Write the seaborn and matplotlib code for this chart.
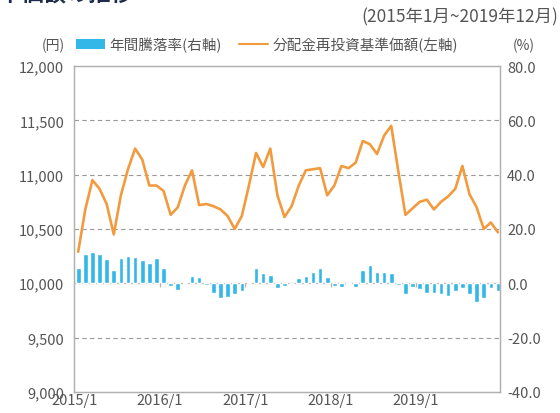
import matplotlib
matplotlib.use("Agg")
import matplotlib.pyplot as plt
import seaborn as sns
import numpy as np
import pandas as pd
from matplotlib.patches import Patch
from matplotlib.lines import Line2D

# monthly data 2015/1 - 2019/12
nav = [10290, 10680, 10950, 10870, 10730, 10450, 10810, 11050, 11240, 11140, 10900, 10900,
       10850, 10630, 10700, 10900, 11040, 10720, 10730, 10710, 10680, 10620, 10500, 10620,
       10900, 11200, 11070, 11240, 10810, 10610, 10710, 10900, 11040, 11050, 11060, 10810,
       10900, 11080, 11060, 11110, 11310, 11280, 11190, 11360, 11450, 11030, 10630, 10690,
       10750, 10770, 10680, 10750, 10800, 10870, 11080, 10820, 10700, 10500, 10560, 10470]
yoy = [5.8, 10.7, 11.7, 10.9, 8.9, 4.9, 9.2, 10.1, 9.7, 8.6, 7.4, 9.2,
       5.8, -1.0, -2.6, 0.6, 2.8, 2.2, -0.8, -3.4, -5.3, -5.2, -4.0, -2.8,
       0.5, 5.5, 3.7, 2.9, -1.6, -1.0, 0.2, 2.0, 2.7, 4.2, 5.5, 2.2,
       -1.0, -1.2, -0.3, -1.2, 5.0, 6.8, 4.2, 4.2, 3.9, -0.5, -3.8, -1.4,
       -2.2, -3.4, -3.4, -3.8, -4.7, -2.8, -1.6, -4.1, -6.8, -5.3, -1.6, -2.8]
year_labels = ["2015/1", "2016/1", "2017/1", "2018/1", "2019/1"]
left_ticks = [9000, 9500, 10000, 10500, 11000, 11500, 12000]
right_ticks = [-40, -20, 0, 20, 40, 60, 80]

line_color = "#f29b3e"
bar_color = "#33b7e8"
text_color = "#555555"
grid_color = "#9a9a9a"

sns.set_style("white")
plt.rcParams['font.family'] = ['Noto Sans CJK JP', 'DejaVu Sans']

df = pd.DataFrame({"m": np.arange(len(nav)), "nav": nav, "yoy": yoy})

fig = plt.figure(figsize=(5.6, 4.14), dpi=100)
ax1 = fig.add_axes([0.132, 0.051, 0.761, 0.787])
ax2 = ax1.twinx()

sns.barplot(data=df, x="m", y="yoy", ax=ax2, color=bar_color, width=0.65,
            native_scale=True, saturation=1)
sns.lineplot(data=df, x="m", y="nav", ax=ax1, color=line_color, linewidth=1.9)

ax1.set_zorder(ax2.get_zorder() + 1)
ax1.patch.set_visible(False)

ax1.set_xlim(-0.6, 59.3)
ax1.set_ylim(9000, 12000)
ax2.set_ylim(-40, 80)
ax2.set_xlim(-0.6, 59.3)

# gridlines on the left scale
for v in left_ticks[1:-1]:
    if v == 10000:
        ax2.axhline(0, color="#b5b5b5", lw=0.9, zorder=0)
    else:
        ax2.axhline((v - 10000) / 25, color=grid_color, lw=0.8,
                    ls=(0, (4, 3)), zorder=0)

year_pos = [12 * k - 0.5 for k in range(len(year_labels))]
ax2.vlines(year_pos[1:], -1.3, 0, color="#b5b5b5", lw=0.9)

ax1.set_xticks(year_pos)
ax1.set_xticklabels(year_labels, fontsize=10.5, color=text_color)
ax1.set_yticks(left_ticks)
ax1.set_yticklabels([f"{v:,}" for v in left_ticks], fontsize=10.5, color=text_color)
ax2.set_yticks(right_ticks)
ax2.set_yticklabels([f"{v:.1f}" for v in right_ticks], fontsize=10.5, color=text_color)
ax1.tick_params(axis="x", length=0, pad=1)
ax1.tick_params(axis="y", length=0, pad=7)
ax2.tick_params(axis="y", length=0, pad=5)
ax1.set_xlabel("")
ax1.set_ylabel("")
ax2.set_xlabel("")
ax2.set_ylabel("")

for ax in (ax1, ax2):
    for s in ax.spines.values():
        s.set_color("#b0b0b0")
        s.set_linewidth(0.9)

# title (cut off at top), subtitle and units
fig.text(-0.04, 0.998, "基準価額の推移", fontsize=16, fontweight="bold",
         color="#1c2b4a", ha="left", va="baseline")
fig.text(0.997, 0.957, "(2015年1月~2019年12月)", fontsize=12.5, color=text_color,
         ha="right", va="center")
fig.text(0.095, 0.89, "(円)", fontsize=10, color=text_color, ha="center", va="center")
fig.text(0.935, 0.89, "(%)", fontsize=10, color=text_color, ha="center", va="center")

handles = [Patch(facecolor=bar_color, edgecolor="none"),
           Line2D([0], [0], color=line_color, lw=1.5)]
fig.legend(handles, ["年間騰落率(右軸)", "分配金再投資基準価額(左軸)"],
           loc="center left", bbox_to_anchor=(0.135, 0.89), ncol=2, frameon=False,
           fontsize=10.5, handlelength=2.0, handletextpad=0.3, columnspacing=1.2,
           labelcolor=text_color, borderaxespad=0, borderpad=0)

fig.savefig("out.png", dpi=100)
